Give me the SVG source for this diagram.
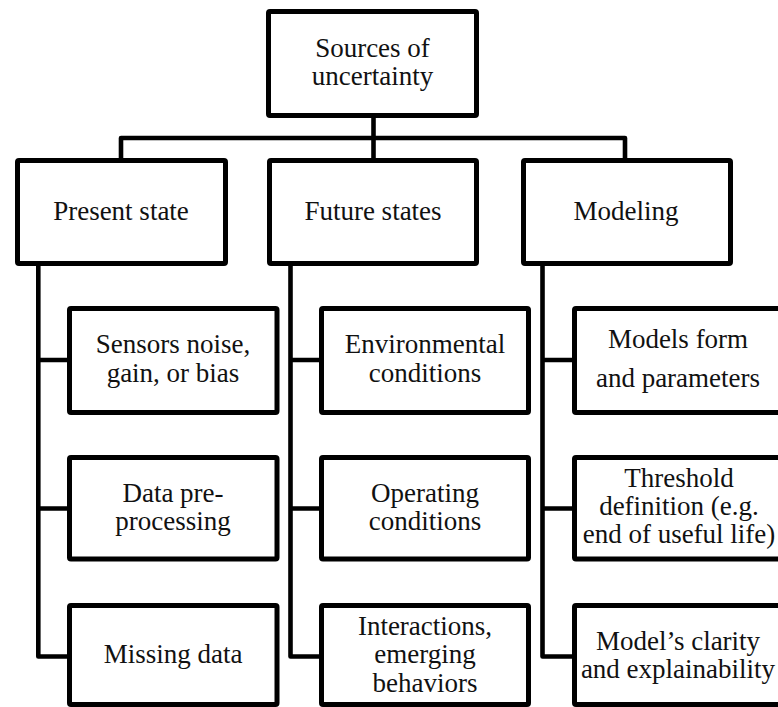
<svg xmlns="http://www.w3.org/2000/svg" width="778" height="707" viewBox="0 0 778 707">
  <rect width="778" height="707" fill="#ffffff"/>

  <!-- tree connectors -->
  <g id="connectors" fill="none" stroke="#000000" stroke-width="4.6" stroke-linejoin="round">
    <path d="M373.5,115 V160"/>
    <path d="M121,160 V138 H625 V160"/>
    <path d="M38.3,263 V656.5 H69"/>
    <path d="M38.3,360 H69 M38.3,508.5 H69"/>
    <path d="M290.5,263 V656.5 H321"/>
    <path d="M290.5,360 H321 M290.5,508.5 H321"/>
    <path d="M542.5,263 V656.5 H574"/>
    <path d="M542.5,360 H574 M542.5,508.5 H574"/>
  </g>

  <!-- root -->
  <g id="sources">
    <rect x="268.5" y="11.5" width="208" height="104" rx="1.5" fill="#ffffff" stroke="#000000" stroke-width="5"/>
    <text x="372.5" y="57" font-family="Liberation Serif" font-size="27" text-anchor="middle" fill="#111111">Sources of</text>
    <text x="372.5" y="85" font-family="Liberation Serif" font-size="27" text-anchor="middle" fill="#111111">uncertainty</text>
  </g>

  <!-- categories -->
  <g id="present-state">
    <rect x="17.5" y="160.5" width="208" height="103" rx="1.5" fill="#ffffff" stroke="#000000" stroke-width="5"/>
    <text x="121" y="220" font-family="Liberation Serif" font-size="27" text-anchor="middle" fill="#111111">Present state</text>
  </g>
  <g id="future-states">
    <rect x="269.5" y="160.5" width="207" height="103" rx="1.5" fill="#ffffff" stroke="#000000" stroke-width="5"/>
    <text x="373" y="220" font-family="Liberation Serif" font-size="27" text-anchor="middle" fill="#111111">Future states</text>
  </g>
  <g id="modeling">
    <rect x="523.5" y="160.5" width="207" height="103" rx="1.5" fill="#ffffff" stroke="#000000" stroke-width="5"/>
    <text x="626" y="220" font-family="Liberation Serif" font-size="27" text-anchor="middle" fill="#111111">Modeling</text>
  </g>

  <!-- present state leaves -->
  <g id="sensors">
    <rect x="69.5" y="308.5" width="207.5" height="104" rx="1.5" fill="#ffffff" stroke="#000000" stroke-width="5"/>
    <text x="173" y="353" font-family="Liberation Serif" font-size="27" text-anchor="middle" fill="#111111">Sensors noise,</text>
    <text x="173" y="382" font-family="Liberation Serif" font-size="27" text-anchor="middle" fill="#111111">gain, or bias</text>
  </g>
  <g id="preprocessing">
    <rect x="69.5" y="457.5" width="207.5" height="101.5" rx="1.5" fill="#ffffff" stroke="#000000" stroke-width="5"/>
    <text x="173" y="502" font-family="Liberation Serif" font-size="27" text-anchor="middle" fill="#111111">Data pre-</text>
    <text x="173" y="530" font-family="Liberation Serif" font-size="27" text-anchor="middle" fill="#111111">processing</text>
  </g>
  <g id="missing-data">
    <rect x="69.5" y="605.5" width="207.5" height="99" rx="1.5" fill="#ffffff" stroke="#000000" stroke-width="5"/>
    <text x="173" y="663" font-family="Liberation Serif" font-size="27" text-anchor="middle" fill="#111111">Missing data</text>
  </g>

  <!-- future states leaves -->
  <g id="environmental">
    <rect x="321.5" y="308.5" width="207" height="104" rx="1.5" fill="#ffffff" stroke="#000000" stroke-width="5"/>
    <text x="425" y="353" font-family="Liberation Serif" font-size="27" text-anchor="middle" fill="#111111">Environmental</text>
    <text x="425" y="382" font-family="Liberation Serif" font-size="27" text-anchor="middle" fill="#111111">conditions</text>
  </g>
  <g id="operating">
    <rect x="321.5" y="457.5" width="207" height="101.5" rx="1.5" fill="#ffffff" stroke="#000000" stroke-width="5"/>
    <text x="425" y="502" font-family="Liberation Serif" font-size="27" text-anchor="middle" fill="#111111">Operating</text>
    <text x="425" y="530" font-family="Liberation Serif" font-size="27" text-anchor="middle" fill="#111111">conditions</text>
  </g>
  <g id="interactions">
    <rect x="321.5" y="605.5" width="207" height="99" rx="1.5" fill="#ffffff" stroke="#000000" stroke-width="5"/>
    <text x="425" y="635" font-family="Liberation Serif" font-size="27" text-anchor="middle" fill="#111111">Interactions,</text>
    <text x="425" y="663" font-family="Liberation Serif" font-size="27" text-anchor="middle" fill="#111111">emerging</text>
    <text x="425" y="692" font-family="Liberation Serif" font-size="27" text-anchor="middle" fill="#111111">behaviors</text>
  </g>

  <!-- modeling leaves -->
  <g id="model-form">
    <rect x="574.5" y="308.5" width="210" height="104" rx="1.5" fill="#ffffff" stroke="#000000" stroke-width="5"/>
    <text x="678" y="348" font-family="Liberation Serif" font-size="27" text-anchor="middle" fill="#111111">Models form</text>
    <text x="678" y="387" font-family="Liberation Serif" font-size="27" text-anchor="middle" fill="#111111">and parameters</text>
  </g>
  <g id="threshold">
    <rect x="574.5" y="457.5" width="210" height="101.5" rx="1.5" fill="#ffffff" stroke="#000000" stroke-width="5"/>
    <text x="679" y="487" font-family="Liberation Serif" font-size="27" text-anchor="middle" fill="#111111">Threshold</text>
    <text x="679" y="515" font-family="Liberation Serif" font-size="27" text-anchor="middle" fill="#111111">definition (e.g.</text>
    <text x="679" y="543" font-family="Liberation Serif" font-size="27" text-anchor="middle" fill="#111111">end of useful life)</text>
  </g>
  <g id="clarity">
    <rect x="574.5" y="605.5" width="210" height="99" rx="1.5" fill="#ffffff" stroke="#000000" stroke-width="5"/>
    <text x="678" y="650" font-family="Liberation Serif" font-size="27" text-anchor="middle" fill="#111111">Model&#8217;s clarity</text>
    <text x="678" y="678" font-family="Liberation Serif" font-size="27" text-anchor="middle" fill="#111111">and explainability</text>
  </g>
</svg>
